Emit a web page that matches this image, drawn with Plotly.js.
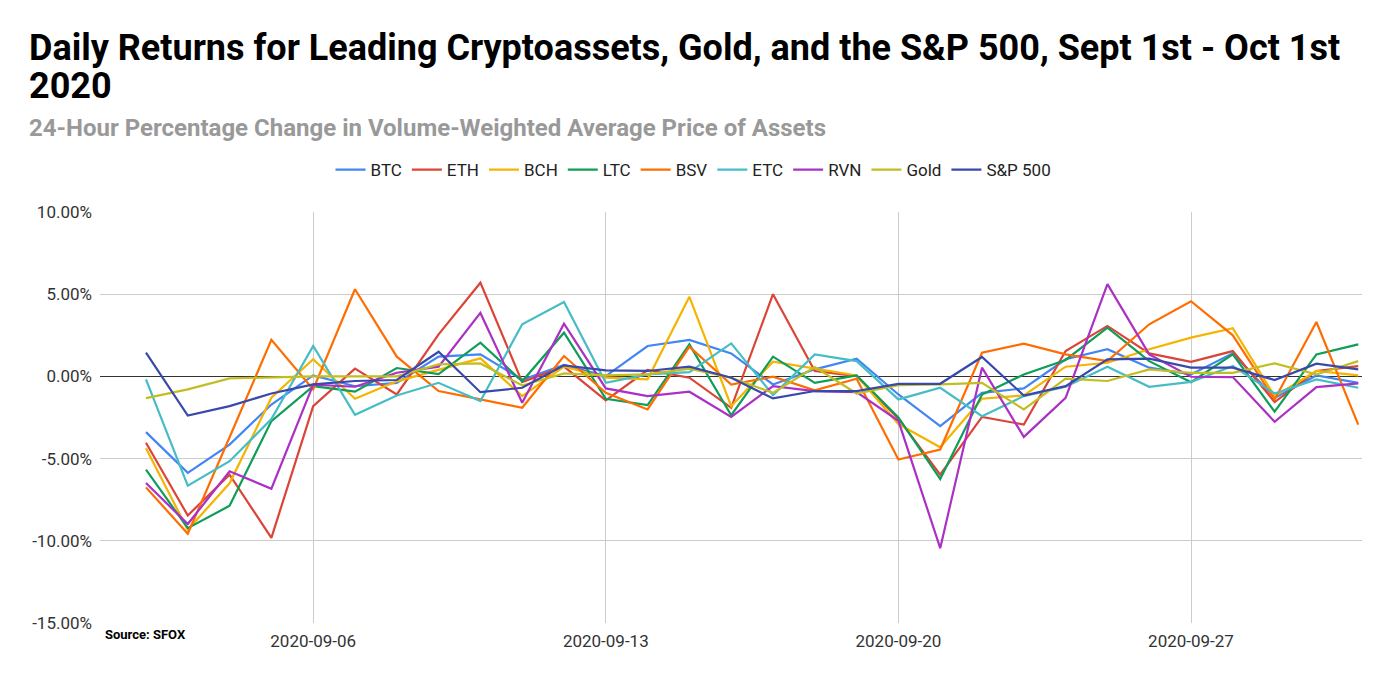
<!DOCTYPE html>
<html>
<head>
<meta charset="utf-8">
<script src="https://cdn.plot.ly/plotly-3.0.1.min.js"></script>
<style>html,body{margin:0;padding:0;background:#fff;}#chart{width:1387px;height:679px;}</style>
</head>
<body>
<div id="chart"></div>
<script>
const dates = ["2020-09-02","2020-09-03","2020-09-04","2020-09-05","2020-09-06","2020-09-07","2020-09-08","2020-09-09","2020-09-10","2020-09-11","2020-09-12","2020-09-13","2020-09-14","2020-09-15","2020-09-16","2020-09-17","2020-09-18","2020-09-19","2020-09-20","2020-09-21","2020-09-22","2020-09-23","2020-09-24","2020-09-25","2020-09-26","2020-09-27","2020-09-28","2020-09-29","2020-09-30","2020-10-01"];

const btc  = [-3.39,-5.87,-4.15,-1.71,0.06,-0.60,-0.39,1.20,1.34,-0.20,0.70,0.02,1.85,2.22,1.40,-0.49,0.43,1.08,-1.10,-3.03,-1.00,-0.73,1.04,1.65,0.53,0.12,1.40,-1.30,0.06,-0.39];
const eth  = [-4.04,-8.46,-5.98,-9.82,-1.81,0.47,-1.10,2.56,5.70,-0.35,0.60,-1.46,0.39,-0.08,-1.91,5.00,0.33,0.02,-2.58,-5.98,-2.46,-2.93,1.54,3.07,1.40,0.89,1.54,-1.56,0.33,0.63];
const bch  = [-4.37,-9.33,-6.50,-1.30,1.04,-1.36,-0.30,0.39,1.10,-1.20,0.60,-0.08,-0.18,4.84,-1.81,0.89,0.47,0.06,-2.90,-4.31,-1.36,-1.16,0.59,0.83,1.65,2.36,2.93,-1.20,0.33,0.06];
const ltc  = [-5.67,-9.23,-7.87,-2.72,-0.60,-0.93,0.51,0.14,2.05,-0.30,2.66,-1.36,-1.75,1.95,-2.36,1.20,-0.39,0.06,-2.50,-6.24,-1.10,0.12,1.00,2.97,0.93,-0.35,1.34,-2.15,1.34,1.95];
const bsv  = [-6.75,-9.57,-3.70,2.22,-0.79,5.30,1.20,-0.89,-1.40,-1.91,1.24,-1.00,-2.01,1.81,-0.49,-0.02,-0.85,-0.14,-5.06,-4.45,1.44,1.99,1.34,0.93,3.17,4.57,2.50,-1.40,3.31,-2.93];
const etc  = [-0.18,-6.65,-5.16,-2.60,1.85,-2.34,-1.16,-0.39,-1.50,3.17,4.53,-0.39,0.12,0.26,2.01,-1.14,1.34,0.93,-1.40,-0.69,-2.42,-1.20,-0.63,0.59,-0.63,-0.33,0.63,-1.04,-0.18,-0.69];
const rvn  = [-6.48,-8.98,-5.77,-6.83,-0.50,-0.63,0.22,0.59,3.86,-1.60,3.21,-0.73,-1.20,-0.93,-2.46,-0.59,-0.89,-0.96,-2.70,-10.45,0.53,-3.68,-1.30,5.61,1.34,-0.02,-0.04,-2.76,-0.65,-0.43];
const gold = [-1.32,-0.79,-0.12,-0.04,0.00,0.00,0.00,0.73,0.79,-0.55,0.18,0.06,0.12,0.47,-0.08,-1.00,0.57,-1.04,-0.53,-0.49,-0.39,-2.01,-0.14,-0.28,0.43,0.22,0.22,0.79,0.12,0.93];
const spx  = [1.44,-2.38,-1.81,-1.04,-0.49,-0.28,-0.22,1.50,-0.96,-0.69,0.67,0.37,0.33,0.59,-0.08,-1.34,-0.89,-0.89,-0.45,-0.45,1.18,-1.16,-0.59,1.04,1.08,0.53,0.53,-0.22,0.77,0.43];

const seriesNames = ["BTC","ETH","BCH","LTC","BSV","ETC","RVN","Gold","S&P 500"];
const seriesValues = [btc, eth, bch, ltc, bsv, etc, rvn, gold, spx];
const colors = ["#4285F4","#DB4437","#F4B400","#0F9D58","#FF6D00","#46BDC6","#AB30C4","#C2BE22","#3949AB"];

const yTicks = [-15,-10,-5,0,5,10];
const yTickText = yTicks.map(v => v.toFixed(2) + "%");

const traces = seriesNames.map((n, i) => ({
  type: "scatter",
  mode: "lines",
  name: n,
  x: dates,
  y: seriesValues[i],
  line: {color: colors[i], width: 2.2},
  hoverinfo: "x+y+name"
}));

const F = "Roboto, Arial, sans-serif";

const layout = {
  width: 1387,
  height: 679,
  autosize: false,
  margin: {l: 100, r: 25, t: 212, b: 56, autoexpand: false},
  paper_bgcolor: "#fff",
  plot_bgcolor: "#fff",
  font: {family: F, size: 17, color: "#333"},
  showlegend: true,
  legend: {
    orientation: "h",
    x: 0.4703, xanchor: "center",
    y: 1.102, yanchor: "middle",
    font: {family: F, size: 17, color: "#222"},
    bgcolor: "rgba(0,0,0,0)"
  },
  xaxis: {
    type: "date",
    range: ["2020-08-31 21:36", "2020-10-01 02:10"],
    tick0: "2020-09-06",
    dtick: 7 * 86400000,
    tickformat: "%Y-%m-%d",
    showgrid: true,
    gridcolor: "#cccccc",
    gridwidth: 1,
    zeroline: false,
    showline: false,
    ticks: "",
    ticklabelstandoff: 6,
    automargin: false,
    tickfont: {family: F, size: 17, color: "#333"}
  },
  yaxis: {
    range: [-15, 10],
    tickmode: "array",
    tickvals: yTicks,
    ticktext: yTickText,
    showgrid: true,
    gridcolor: "#cccccc",
    gridwidth: 1,
    zeroline: true,
    zerolinecolor: "#333333",
    zerolinewidth: 1,
    showline: false,
    ticks: "",
    ticklabelstandoff: 7,
    automargin: false,
    tickfont: {family: F, size: 17, color: "#333"}
  },
  annotations: [
    {xref: "paper", yref: "paper", x: -0.0578, y: 1.400, xanchor: "left", yanchor: "middle", showarrow: false,
     text: "<b>Daily Returns for Leading Cryptoassets, Gold, and the S&amp;P 500, Sept 1st - Oct 1st</b>",
     font: {family: F, size: 36, color: "#000"}},
    {xref: "paper", yref: "paper", x: -0.0578, y: 1.307, xanchor: "left", yanchor: "middle", showarrow: false,
     text: "<b>2020</b>",
     font: {family: F, size: 36, color: "#000"}},
    {xref: "paper", yref: "paper", x: -0.0578, y: 1.205, xanchor: "left", yanchor: "middle", showarrow: false,
     text: "<b>24-Hour Percentage Change in Volume-Weighted Average Price of Assets</b>",
     font: {family: F, size: 24, color: "#999999"}},
    {xref: "paper", yref: "paper", x: 0.002, y: -0.029, xanchor: "left", yanchor: "middle", showarrow: false,
     text: "<b>Source: SFOX</b>",
     font: {family: F, size: 13, color: "#000"}}
  ]
};

Plotly.newPlot("chart", traces, layout, {displayModeBar: false, responsive: false});
</script>
</body>
</html>
